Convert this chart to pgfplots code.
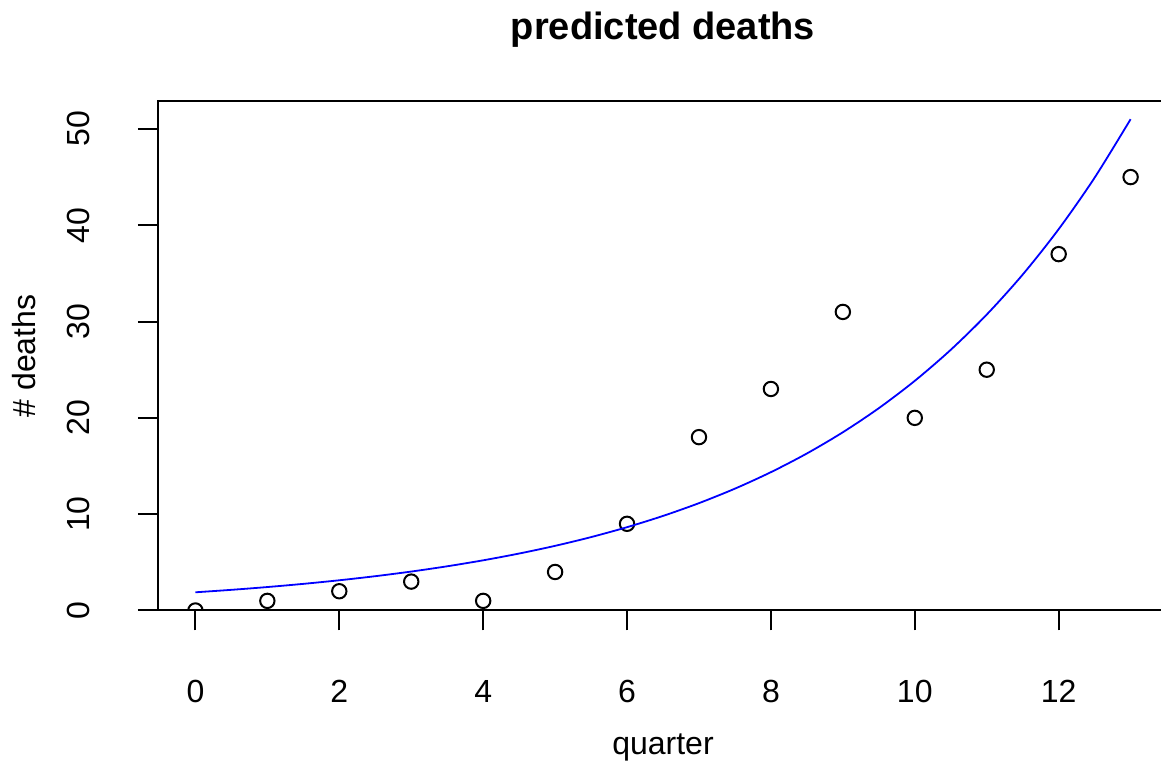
\documentclass[border=0pt]{standalone}
\usepackage{fontspec}
\setmainfont{Liberation Sans}
\usepackage{pgfplots}
\pgfplotsset{compat=1.18}
\begin{document}
\begin{tikzpicture}[x=1pt,y=1pt]
\begin{axis}[
  at={(79pt,79.75pt)}, anchor=south west,
  scale only axis, width=505pt, height=254.75pt,
  xmin=-0.52, xmax=13.52, ymin=0, ymax=52.9,
  clip marker paths=true,
  axis line style={line width=1pt},
  every tick/.style={line width=1pt, black},
  tick align=outside, major tick length=10pt,
  xtick pos=bottom, ytick pos=left,
  xtick={0,2,4,6,8,10,12}, ytick={0,10,20,30,40,50},
  /pgf/number format/assume math mode=true,
  tick label style={font=\fontsize{16}{19}\selectfont},
  xticklabel style={anchor=base, yshift=-36.25pt},
  yticklabel style={rotate=90, anchor=base, yshift=24pt},
]
\addplot[only marks, mark=o, mark size=3.6pt, mark options={line width=1pt, black}] coordinates {
(0,0) (1,1) (2,2) (3,3) (4,1) (5,4) (6,9) (7,18) (8,23) (9,31) (10,20) (11,25) (12,37) (13,45)
};
\addplot[blue, line width=0.9pt, smooth] coordinates {
(0,1.890) (0.5,2.145) (1,2.435) (1.5,2.765) (2,3.138) (2.5,3.562) (3,4.043) (3.5,4.590)
(4,5.210) (4.5,5.914) (5,6.713) (5.5,7.620) (6,8.650) (6.5,9.819) (7,11.146) (7.5,12.652)
(8,14.362) (8.5,16.303) (9,18.506) (9.5,21.006) (10,23.845) (10.5,27.067) (11,30.725)
(11.5,34.877) (12,39.590) (12.5,44.940) (13,51.01)
};
\end{axis}
\node[anchor=base, font=\fontsize{19}{23}\selectfont\bfseries] at (331.5pt,365pt) {predicted deaths};
\node[anchor=base, font=\fontsize{16}{19}\selectfont] at (331.5pt,7.5pt) {quarter};
\node[anchor=base, rotate=90, font=\fontsize{16}{19}\selectfont] at (17.5pt,207pt) {\# deaths};
\pgfresetboundingbox
\useasboundingbox (0,0) rectangle (580.5pt,385pt);
\end{tikzpicture}
\end{document}
